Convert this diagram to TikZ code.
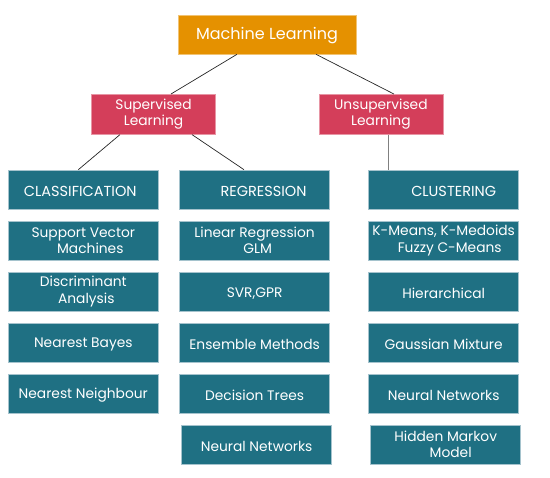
\documentclass[tikz,border=0pt]{standalone}
\usepackage{fontspec}
\setmainfont{Poppins}
\usetikzlibrary{positioning}
\definecolor{mlorange}{RGB}{229,145,0}
\definecolor{learnred}{RGB}{212,62,90}
\definecolor{algoteal}{RGB}{31,112,131}
\definecolor{algoedge}{RGB}{165,195,205}

\begin{document}
\begin{tikzpicture}[x=1pt,y=-1pt,node distance=51pt,on grid,
    every node/.style={text=white,align=center,inner sep=0pt,font=\fontsize{13.8}{16.5}\selectfont,
      execute at begin node={\rule{0pt}{13.6pt}}},
    root/.style={fill=mlorange,draw=mlorange!55,line width=0.6pt,minimum width=178pt,minimum height=39pt,font=\fontsize{16}{19}\selectfont,
      execute at begin node={\rule{0pt}{13.2pt}}},
    learn/.style={fill=learnred,draw=learnred!55,line width=0.6pt,minimum width=124pt,minimum height=40pt},
    algo/.style={fill=algoteal,draw=algoedge,line width=0.6pt,minimum width=150pt,minimum height=39pt},
    head/.style={algo,font=\fontsize{14.5}{17}\selectfont},
    link/.style={draw=black!85,line width=0.7pt},
    trunk/.style={draw=black!50,line width=1.4pt}]
  \useasboundingbox (0,0) rectangle (550,478);

  % top levels
  \node[root] (ml) at (267,34.5) {Machine Learning};
  \node[learn] (sup) at (153.5,114.3) {Supervised\\Learning};
  \node[learn] (unsup) at (380.9,114.3) {Unsupervised\\Learning};

  % classification
  \node[head] (cls) at (83.3,189.5) {\hspace*{-6pt}CLASSIFICATION};
  \node[algo] (cls1) [below=of cls] {Support Vector\\\hspace*{14pt}Machines};
  \node[algo] (cls2) [below=of cls1] {Discriminant\\\hspace*{6pt}Analysis};
  \node[algo] (cls3) [below=of cls2] {Nearest Bayes};
  \node[algo] (cls4) [below=of cls3] {Nearest Neighbour};

  % regression
  \node[head] (reg) at (254.6,189.5) {\hspace*{18pt}REGRESSION};
  \node[algo] (reg1) [below=of reg] {Linear Regression\\\hspace*{6pt}GLM};
  \node[algo] (reg2) [below=of reg1] {SVR,GPR};
  \node[algo] (reg3) [below=of reg2] {Ensemble Methods};
  \node[algo] (reg4) [below=of reg3] {Decision Trees};
  \node[algo] (reg5) [below=of reg4,xshift=2pt] {Neural Networks};

  % clustering
  \node[head] (clu) at (443.7,189.5) {\hspace*{20pt}CLUSTERING};
  \node[algo] (clu1) [below=of clu] {K-Means, K-Medoids\\\hspace*{12pt}Fuzzy C-Means};
  \node[algo] (clu2) [below=of clu1] {Hierarchical};
  \node[algo] (clu3) [below=of clu2] {Gaussian Mixture};
  \node[algo] (clu4) [below=of clu3] {Neural Networks};
  \node[algo] (clu5) [below=of clu4,xshift=2pt] {Hidden Markov\\\hspace*{10pt}Model};

  % connectors
  \draw[link] ([xshift=-30pt]ml.south) -- ([xshift=17.5pt]sup.north);
  \draw[link] ([xshift=49pt]ml.south) -- ([xshift=13pt]unsup.north);
  \draw[link] ([xshift=-33.5pt]sup.south) -- ([xshift=-5pt]cls.north);
  \draw[link] ([xshift=38.5pt]sup.south) -- ([xshift=-10.6pt]reg.north);
  \draw[trunk] ([xshift=7.8pt]unsup.south) -- ([xshift=7.8pt]unsup.south |- clu.north);
\end{tikzpicture}
\end{document}
